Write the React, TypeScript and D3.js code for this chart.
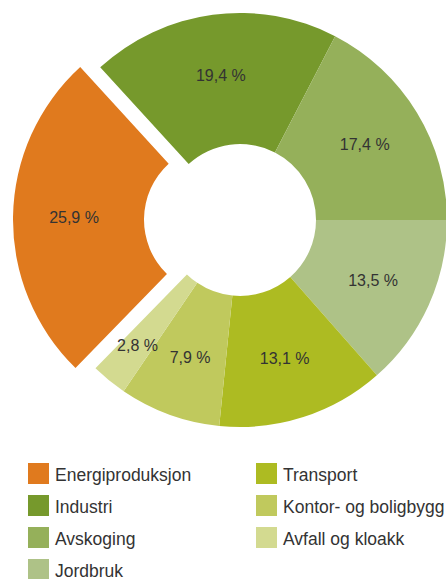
import React from "react";
import * as d3 from "d3";

const categories = [
  "Energiproduksjon",
  "Industri",
  "Avskoging",
  "Jordbruk",
  "Transport",
  "Kontor- og boligbygg",
  "Avfall og kloakk",
];
const shares = [25.9, 19.4, 17.4, 13.5, 13.1, 7.9, 2.8];
const sliceColors = [
  "#e07a1e",
  "#76992c",
  "#95b05a",
  "#aec287",
  "#adbb22",
  "#c0c95d",
  "#d3da90",
];
const exploded = ["Energiproduksjon"];

const W = 446;
const H = 579;
const cx = 240;
const cy = 220;
const outerR = 207;
const innerR = 76;
const labelR = 146;
const smallLabelR = 162; // thin slices get their label pushed outward
const explodeBy = 20;
const startDeg = -135.72;

const fmt = (v: number) => d3.format(".1f")(v).replace(".", ",") + " %";

const Slice = ({ d, i, arc, labelArc, smallArc }: any) => {
  const name = categories[i];
  const mid = (d.startAngle + d.endAngle) / 2;
  const off = exploded.includes(name) ? explodeBy : 0;
  const dx = Math.sin(mid) * off;
  const dy = -Math.cos(mid) * off;
  const [lx, ly] = (d.data < 5 ? smallArc : labelArc).centroid(d);
  return (
    <g transform={`translate(${dx} ${dy})`}>
      <path d={arc(d)} fill={sliceColors[i]} />
      <text
        x={lx}
        y={ly}
        textAnchor="middle"
        dominantBaseline="central"
        fill="#333"
        fontSize="16"
      >
        {fmt(d.data)}
      </text>
    </g>
  );
};

const App = () => {
  const a0 = (startDeg * Math.PI) / 180;
  const createPie = d3
    .pie<number>()
    .value((d) => d)
    .sort(null)
    .startAngle(a0)
    .endAngle(a0 + 2 * Math.PI);
  const arc = d3.arc<any>().innerRadius(innerR).outerRadius(outerR);
  const labelArc = d3.arc<any>().innerRadius(labelR).outerRadius(labelR);
  const smallArc = d3.arc<any>().innerRadius(smallLabelR).outerRadius(smallLabelR);
  const slices = createPie(shares);

  // legend: two columns, first four left, rest right
  const perCol = 4;
  const colX = d3.scaleOrdinal<number, number>().domain([0, 1]).range([28, 256]);
  const rowY = d3.scaleLinear().domain([0, 1]).range([463, 495]);
  const box = 21;

  return (
    <svg
      width={W}
      height={H}
      style={{ position: "absolute", left: 0, top: 0 }}
      fontFamily="'Liberation Sans', Arial, sans-serif"
    >
      <rect width={W} height={H} fill="#fff" />
      <g transform={`translate(${cx} ${cy})`}>
        {slices.map((d, i) => (
          <Slice
            key={i}
            d={d}
            i={i}
            arc={arc}
            labelArc={labelArc}
            smallArc={smallArc}
          />
        ))}
      </g>
      <g>
        {categories.map((c, i) => {
          const col = Math.floor(i / perCol);
          const row = i % perCol;
          const x = colX(col);
          const y = rowY(row);
          return (
            <g key={c} transform={`translate(${x} ${y})`}>
              <rect width={box} height={box} fill={sliceColors[i]} />
              <text
                x={box + 6}
                y={box / 2 + 1}
                dominantBaseline="central"
                fontSize="17.5"
                fill="#333"
              >
                {c}
              </text>
            </g>
          );
        })}
      </g>
    </svg>
  );
};

export default App;
